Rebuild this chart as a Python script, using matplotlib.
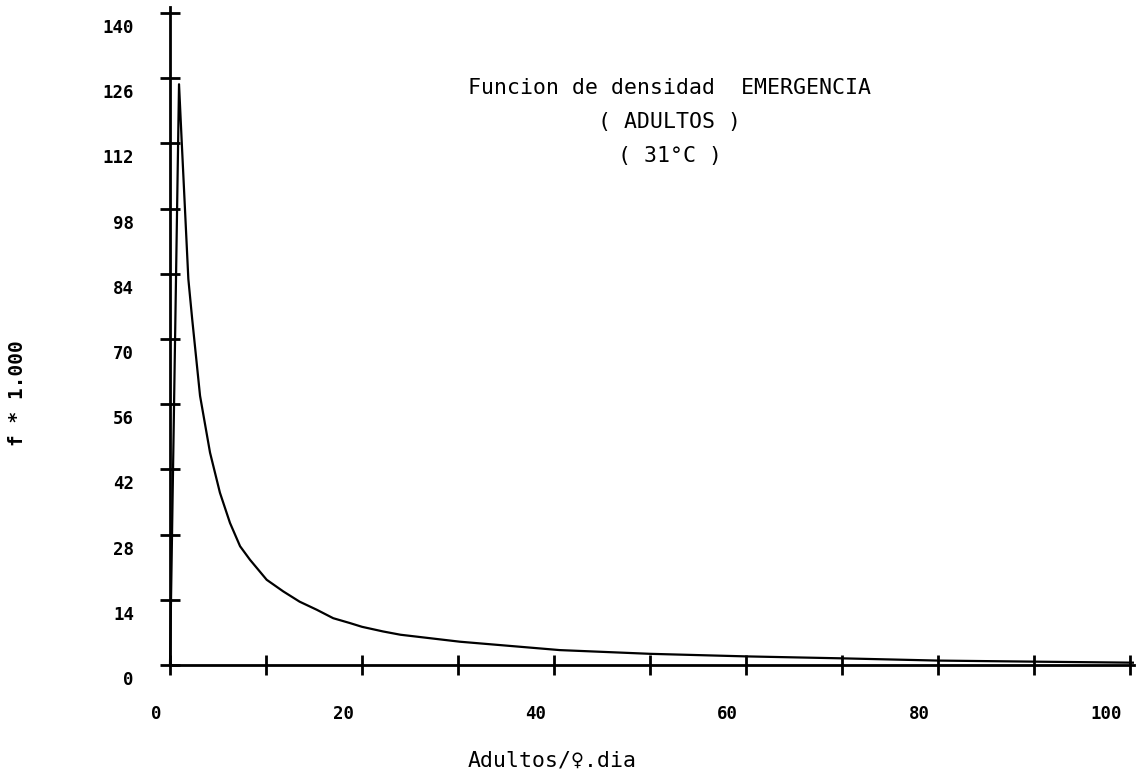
import matplotlib
matplotlib.use('Agg')
import matplotlib.pyplot as plt
import matplotlib.transforms as mtransforms
import numpy as np

# curve (x = Adultos/hembra.dia, y = f * 1000)
x_vals = [0.0, 0.94, 1.22, 1.91, 2.31, 3.13, 4.17, 5.2, 6.25, 7.3, 8.33,
          10.07, 11.8, 13.5, 15.3, 17.0, 18.75, 20.0, 22.2, 24.0, 30.2,
          40.6, 50.0, 60.0, 70.0, 80.0, 90.0, 100.3]
y_vals = [0.0, 124.7, 112.4, 82.9, 74.3, 57.8, 45.6, 37.0, 30.5, 25.5, 22.6,
          18.3, 15.8, 13.6, 11.85, 10.05, 9.0, 8.2, 7.2, 6.5, 5.0,
          3.2, 2.4, 1.85, 1.43, 0.95, 0.72, 0.5]

x_ticks = list(range(0, 101, 10))
x_ticklabels = ['0', '', '20', '', '40', '', '60', '', '80', '', '100']
y_ticks = list(range(0, 141, 14))
y_ticklabels = [str(v) for v in y_ticks]

title_lines = ['Funcion de densidad  EMERGENCIA', '( ADULTOS )', '( 31°C )']
x_label = 'Adultos/♀.dia'
y_label = 'f * 1.000'

mono = ['DejaVu Sans Mono', 'DejaVu Sans']

W, H = 1142, 776
fig = plt.figure(figsize=(W / 100, H / 100), dpi=100)
ax = fig.add_axes([170 / W, 111 / H, 960 / W, 652 / H])
ax.set_xlim(0, 100)
ax.set_ylim(0, 140)

ax.plot(x_vals, y_vals, color='black', lw=1.6, clip_on=False, solid_joinstyle='round')

for side in ['top', 'right']:
    ax.spines[side].set_visible(False)
for side in ['left', 'bottom']:
    ax.spines[side].set_linewidth(2.0)
ax.spines['left'].set_bounds(0, 141.3)
ax.spines['bottom'].set_bounds(0, 100.4)

ax.set_xticks(x_ticks)
ax.set_xticklabels(x_ticklabels, fontfamily=mono, fontweight='bold', fontsize=12.5, ha='right')
ax.set_yticks(y_ticks)
ax.set_yticklabels(y_ticklabels, fontfamily=mono, fontweight='bold', fontsize=12.5)
ax.tick_params(axis='both', direction='inout', length=14, width=2.0, color='black')
ax.tick_params(axis='x', pad=22)
ax.tick_params(axis='y', pad=19)

dx = mtransforms.ScaledTranslation(-8 / 100, 0, fig.dpi_scale_trans)
for lab in ax.get_xticklabels():
    lab.set_transform(lab.get_transform() + dx)
dy = mtransforms.ScaledTranslation(0, -13 / 100, fig.dpi_scale_trans)
for lab in ax.get_yticklabels():
    lab.set_transform(lab.get_transform() + dy)

# title block
for i, line in enumerate(title_lines):
    fig.text(670 / W, 1 - (88 + 34 * i) / H, line, ha='center', va='center',
             fontfamily=mono, fontsize=15.5)

fig.text(552 / W, 1 - 760 / H, x_label, ha='center', va='center',
         fontfamily=mono, fontsize=15.5)
fig.text(18 / W, 1 - 393 / H, y_label, ha='center', va='center', rotation=90,
         fontfamily=mono, fontweight='bold', fontsize=14)

fig.savefig('out.png', dpi=100)
